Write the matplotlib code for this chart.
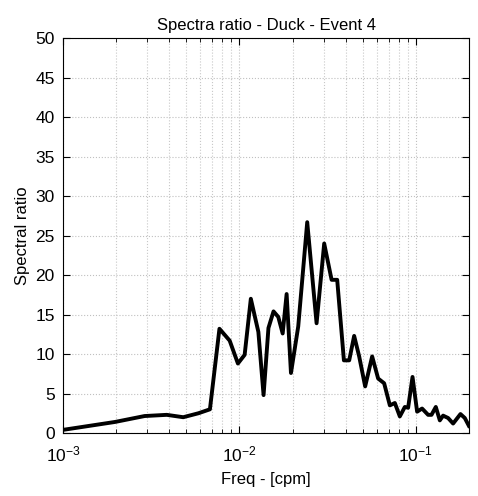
import matplotlib
matplotlib.use("Agg")
import matplotlib.pyplot as plt

plt.rcParams['font.family'] = ['Liberation Sans', 'DejaVu Sans']
plt.rcParams['mathtext.fontset'] = 'custom'
plt.rcParams['mathtext.rm'] = 'Liberation Sans'
plt.rcParams['mathtext.it'] = 'Liberation Sans'

# spectral ratio vs frequency
freq = [0.001, 0.00197, 0.0029, 0.00387, 0.0048, 0.00585, 0.0068, 0.0077,
        0.0088, 0.0098, 0.0107, 0.0116, 0.0128, 0.0137, 0.0146, 0.0156,
        0.0166, 0.01758, 0.01851, 0.01959, 0.02154, 0.02422, 0.02737, 0.03023,
        0.0333, 0.03582, 0.0391, 0.0419, 0.0447, 0.04773, 0.05161, 0.05654,
        0.06113, 0.06612, 0.07124, 0.07603, 0.08115, 0.08663, 0.09044, 0.09578,
        0.1017, 0.1085, 0.1174, 0.1227, 0.1298, 0.1368, 0.1428, 0.1524,
        0.1627, 0.1791, 0.1895, 0.2]
ratio = [0.4, 1.4, 2.15, 2.3, 2.0, 2.5, 3.0, 13.2,
         11.7, 8.8, 9.9, 17.0, 12.8, 4.8, 13.3, 15.4,
         14.7, 12.6, 17.6, 7.6, 13.5, 26.7, 13.9, 24.0,
         19.4, 19.4, 9.2, 9.2, 12.3, 9.7, 5.9, 9.7,
         6.9, 6.3, 3.5, 3.8, 2.1, 3.3, 3.2, 7.1,
         2.7, 3.1, 2.3, 2.3, 3.3, 1.6, 2.2, 1.9,
         1.2, 2.4, 1.9, 0.9]

fig = plt.figure(figsize=(4.78, 4.96), dpi=100)
ax = fig.add_axes([0.132, 0.127, 0.849, 0.796])

ax.semilogx(freq, ratio, color='black', linewidth=2.8)
ax.set_xlim(1e-3, 0.2)
ax.set_ylim(0, 50)
ax.set_yticks(range(0, 51, 5))

ax.grid(True, which='major', axis='both', linestyle=':', color='#c0c0c0', linewidth=0.8)
ax.grid(True, which='minor', axis='x', linestyle=':', color='#c8c8c8', linewidth=0.8)
ax.tick_params(which='both', direction='in', top=True, right=True, labelsize=12.5)
ax.tick_params(which='major', length=5)
ax.tick_params(axis='x', which='major', pad=8)
ax.tick_params(axis='y', which='major', pad=6)
ax.tick_params(which='minor', length=3)
for s in ax.spines.values():
    s.set_linewidth(0.8)

ax.set_title("Spectra ratio - Duck - Event 4", fontsize=12, pad=6)
ax.set_xlabel("Freq - [cpm]", fontsize=12, labelpad=6)
ax.set_ylabel("Spectral ratio", fontsize=12)

fig.savefig("out.png", dpi=100)
